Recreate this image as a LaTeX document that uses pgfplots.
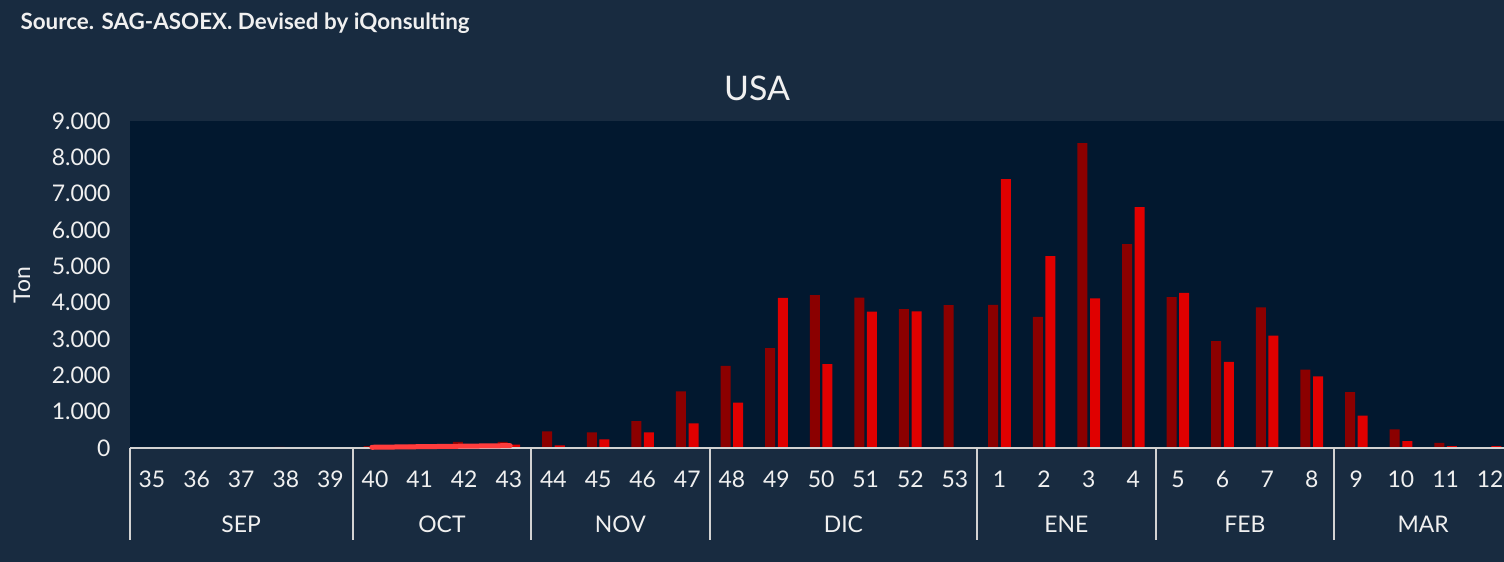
\documentclass[border=0pt]{standalone}
\usepackage{pgfplots}
\pgfplotsset{compat=1.18}
\usepackage{fontspec}
\setmainfont{Lato}
\definecolor{outerbg}{RGB}{24,43,64}
\definecolor{plotbg}{RGB}{2,24,47}
\definecolor{darkred}{RGB}{139,0,0}
\definecolor{brightred}{RGB}{224,0,0}
\definecolor{annot}{RGB}{255,60,60}
\definecolor{txt}{RGB}{240,240,240}
\definecolor{sepc}{RGB}{210,210,210}
\begin{document}
\begin{tikzpicture}[x=1bp,y=1bp]
\fill[outerbg] (0,0) rectangle (1504,562);
\useasboundingbox (0,0) rectangle (1504,562);
\node[anchor=west, text=txt, font=\fontsize{22.5}{22.5}\selectfont\bfseries] at (17,539) {Source. SAG-ASOEX. Devised by iQonsulting};
\node[text=txt, font=\fontsize{34}{34}\selectfont] at (757,474) {USA};
\node[rotate=90, text=txt, font=\fontsize{23}{23}\selectfont] at (22,277) {Ton};
\begin{axis}[
  at={(130bp,114bp)}, anchor=south west,
  scale only axis, width=1374bp, height=327bp,
  xmin=-0.493, xmax=30.31, ymin=0, ymax=9000,
  clip=false,
  axis background/.style={fill=plotbg},
  axis line style={draw=none},
  major tick length=0,
  /pgf/number format/assume math mode=true,
  xtick={0,...,30},
  xticklabels={35,36,37,38,39,40,41,42,43,44,45,46,47,48,49,50,51,52,53,1,2,3,4,5,6,7,8,9,10,11,12},
  ytick={0,1000,2000,3000,4000,5000,6000,7000,8000,9000},
  yticklabels={0,1.000,2.000,3.000,4.000,5.000,6.000,7.000,8.000,9.000},
  xticklabel style={anchor=center, yshift=-31bp, text=txt, font=\fontsize{23}{23}\selectfont},
  yticklabel style={anchor=east, xshift=-16bp, text=txt, font=\fontsize{23}{23}\selectfont},
]
\addplot[ybar, bar width=10bp, bar shift=-6.3bp, fill=darkred, draw=none] coordinates {
(0,0) (1,0) (2,0) (3,30) (4,20) (5,50) (6,100) (7,170) (8,170) (9,460)
(10,430) (11,740) (12,1560) (13,2260) (14,2750) (15,4210) (16,4140) (17,3820) (18,3930) (19,3940)
(20,3610) (21,8390) (22,5610) (23,4150) (24,2940) (25,3870) (26,2160) (27,1540) (28,510) (29,140) (30,0)};
\addplot[ybar, bar width=10bp, bar shift=6.3bp, fill=brightred, draw=none] coordinates {
(0,0) (1,0) (2,0) (3,0) (4,20) (5,30) (6,50) (7,70) (8,90) (9,70)
(10,240) (11,430) (12,680) (13,1250) (14,4130) (15,2310) (16,3750) (17,3760) (18,0) (19,7400)
(20,5280) (21,4120) (22,6630) (23,4270) (24,2370) (25,3090) (26,1970) (27,890) (28,190) (29,50) (30,50)};
\draw[sepc, line width=2.5bp] (rel axis cs:0,0) -- (rel axis cs:1,0);
\draw[sepc, line width=2bp] (axis cs:-0.493,0) -- ([yshift=-92bp]axis cs:-0.493,0);
\draw[sepc, line width=2bp] (axis cs:4.5,0) -- ([yshift=-92bp]axis cs:4.5,0);
\draw[sepc, line width=2bp] (axis cs:8.5,0) -- ([yshift=-92bp]axis cs:8.5,0);
\draw[sepc, line width=2bp] (axis cs:12.5,0) -- ([yshift=-92bp]axis cs:12.5,0);
\draw[sepc, line width=2bp] (axis cs:18.5,0) -- ([yshift=-92bp]axis cs:18.5,0);
\draw[sepc, line width=2bp] (axis cs:22.5,0) -- ([yshift=-92bp]axis cs:22.5,0);
\draw[sepc, line width=2bp] (axis cs:26.5,0) -- ([yshift=-92bp]axis cs:26.5,0);
\node[text=txt, font=\fontsize{23}{23}\selectfont] at ([yshift=-76bp]axis cs:2,0) {SEP};
\node[text=txt, font=\fontsize{23}{23}\selectfont] at ([yshift=-76bp]axis cs:6.5,0) {OCT};
\node[text=txt, font=\fontsize{23}{23}\selectfont] at ([yshift=-76bp]axis cs:10.5,0) {NOV};
\node[text=txt, font=\fontsize{23}{23}\selectfont] at ([yshift=-76bp]axis cs:15.5,0) {DIC};
\node[text=txt, font=\fontsize{23}{23}\selectfont] at ([yshift=-76bp]axis cs:20.5,0) {ENE};
\node[text=txt, font=\fontsize{23}{23}\selectfont] at ([yshift=-76bp]axis cs:24.5,0) {FEB};
\node[text=txt, font=\fontsize{23}{23}\selectfont] at ([yshift=-76bp]axis cs:28.5,0) {MAR};
\addplot[no marks, annot, line width=5bp, line cap=round] coordinates {(4.93,20) (8.03,65)};
\end{axis}
\end{tikzpicture}
\end{document}
